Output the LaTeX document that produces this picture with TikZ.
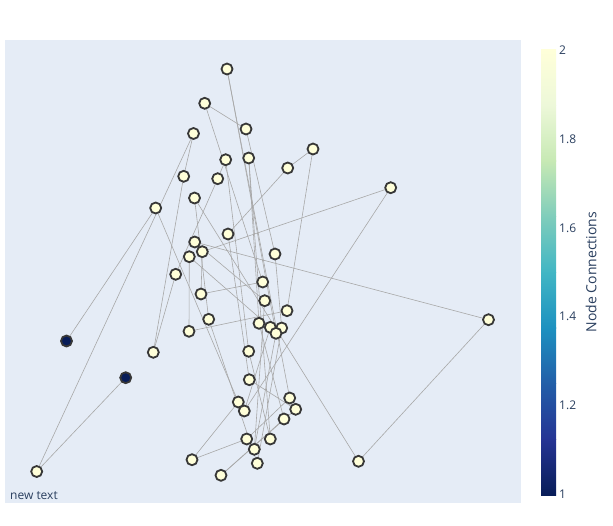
\documentclass[tikz,border=0pt]{standalone}
\usepackage{fontspec}
\setmainfont{Open Sans}
\definecolor{plotbg}{HTML}{E5ECF6}
\definecolor{txt}{HTML}{2A3F5F}
\definecolor{edgec}{HTML}{A8A8A8}
\definecolor{nodeborder}{RGB}{55,55,55}
\definecolor{hi}{RGB}{255,255,217}
\definecolor{lo}{RGB}{8,29,88}
\definecolor{c0}{RGB}{8,29,88}
\definecolor{c1}{RGB}{37,52,148}
\definecolor{c2}{RGB}{34,94,168}
\definecolor{c3}{RGB}{29,145,192}
\definecolor{c4}{RGB}{65,182,196}
\definecolor{c5}{RGB}{127,205,187}
\definecolor{c6}{RGB}{199,233,180}
\definecolor{c7}{RGB}{237,248,217}
\definecolor{c8}{RGB}{255,255,217}
\tikzset{
  vtx/.style={circle, draw=nodeborder, line width=1.8pt, fill=hi, minimum size=11pt, inner sep=0pt},
  vtxlow/.style={vtx, fill=lo},
  link/.style={draw=edgec, line width=0.6pt},
  tick/.style={text=txt, font=\fontsize{12}{14}\selectfont, anchor=west, inner sep=0pt},
}
\begin{document}
\begin{tikzpicture}[x=1pt,y=-1pt]
\useasboundingbox (0,0) rectangle (613,525);
\fill[white] (0,0) rectangle (613,525);
\fill[plotbg] (5,40) rectangle (521,503);
% nodes positions
\foreach \n/\x/\y in {1/227/69, 2/204.7/103.3, 3/246/129, 4/193.5/133.5, 5/225.7/159.7, 6/248.7/158,
 7/313/149, 8/287.7/168, 9/390.7/187.7, 10/183.7/176.3, 11/217.7/178.7, 12/155.7/208, 13/194.5/198,
 14/228/234, 15/194.7/242, 16/189.3/256.7, 17/202.3/251.7, 18/275/254, 19/175.7/274.3, 20/262.7/282,
 21/201/294, 22/264.7/300.7, 23/287/310.7, 24/208.7/319.3, 25/259/323.3, 26/270.3/327.3, 27/281.7/328,
 28/276/333.3, 29/189/331.3, 30/488.5/319.7, 31/66.5/341, 32/153.3/352.3, 33/248.7/351.3, 34/125.7/377.7,
 35/249.3/379.7, 36/238.3/402, 37/289.7/398, 38/244.3/411, 39/295.7/409.3, 40/284/419, 41/246.7/439,
 42/270.3/439, 43/254.3/449.3, 44/192/459.7, 45/358.5/461.3, 46/257.3/463.3, 47/221/475.3, 48/36.7/471.5}
 {\coordinate (p\n) at (\x,\y);}
% edges
\foreach \a/\b in {31/12, 34/48, 48/4, 4/10, 10/32, 2/3, 7/8, 7/23, 9/17, 9/38, 44/36, 44/41, 30/45,
 30/15, 45/13, 1/28, 1/37, 2/20, 3/18, 5/11, 8/14, 12/36, 19/32, 29/23, 29/16, 21/20, 47/40, 41/37,
 6/25, 6/42, 5/33, 19/11, 13/24, 24/46, 14/35, 15/22, 16/26, 47/39, 18/27, 21/17, 22/43, 25/40,
 26/38, 27/46, 28/43, 33/42, 35/39}
 {\path[link] (p\a) -- (p\b);}
% node markers
\foreach \n in {1,2,3,4,5,6,7,8,9,10,11,12,13,14,15,16,17,18,19,20,21,22,23,24,25,26,27,28,29,30,32,33,35,36,37,38,39,40,41,42,43,44,45,46,47,48}
 {\node[vtx] (n\n) at (p\n) {};}
\node[vtxlow] (n31) at (p31) {};
\node[vtxlow] (n34) at (p34) {};
% annotation
\node[text=txt, font=\fontsize{12}{14}\selectfont, anchor=base west, inner sep=0pt] (ann) at (10,499.5) {new text};
% colorbar
\shade[bottom color=c0, top color=c1] (541,495) rectangle (556,439.3);
\shade[bottom color=c1, top color=c2] (541,439.5) rectangle (556,383.6);
\shade[bottom color=c2, top color=c3] (541,383.8) rectangle (556,327.9);
\shade[bottom color=c3, top color=c4] (541,328.1) rectangle (556,272.2);
\shade[bottom color=c4, top color=c5] (541,272.4) rectangle (556,216.5);
\shade[bottom color=c5, top color=c6] (541,216.7) rectangle (556,160.8);
\shade[bottom color=c6, top color=c7] (541,161.0) rectangle (556,105.1);
\shade[bottom color=c7, top color=c8] (541,105.3) rectangle (556,49.3);
\node[tick] (t2) at (559,50) {2};
\node[tick] (t18) at (559,139) {1.8};
\node[tick] (t16) at (559,228) {1.6};
\node[tick] (t14) at (559,316.5) {1.4};
\node[tick] (t12) at (559,405.5) {1.2};
\node[tick] (t1) at (559,494) {1};
\node[text=txt, font=\fontsize{14}{16}\selectfont, rotate=90, inner sep=0pt] (title) at (591,272) {Node Connections};
\end{tikzpicture}
\end{document}
